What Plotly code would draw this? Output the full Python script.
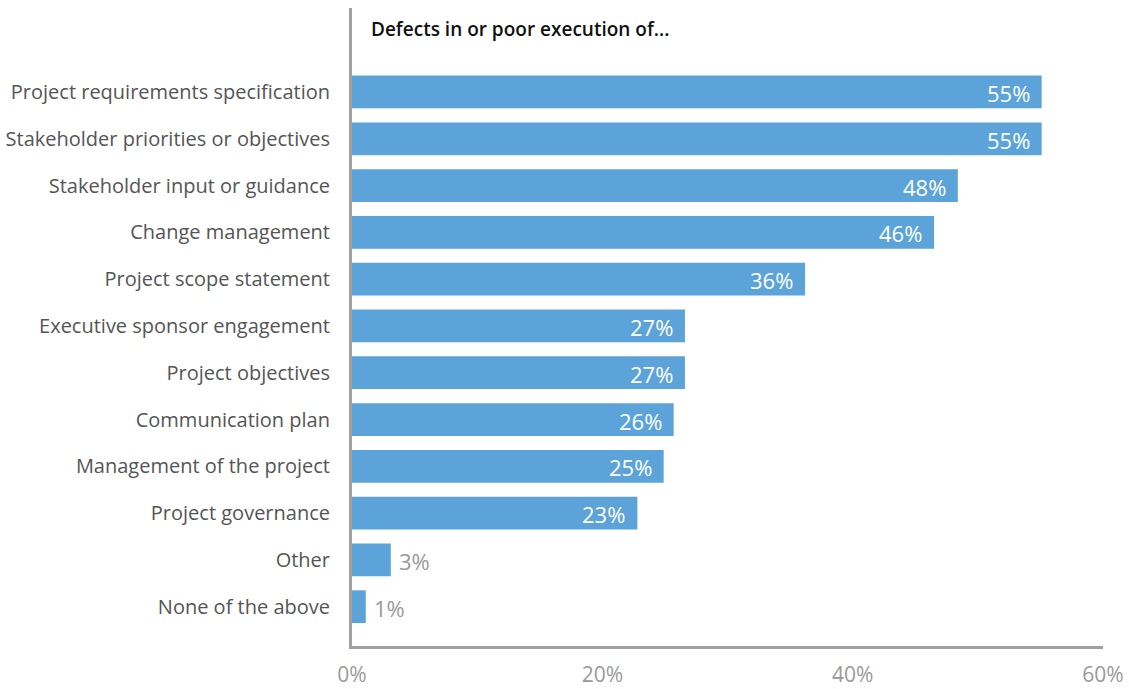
import plotly.graph_objects as go

categories = [
    "Project requirements specification",
    "Stakeholder priorities or objectives",
    "Stakeholder input or guidance",
    "Change management",
    "Project scope statement",
    "Executive sponsor engagement",
    "Project objectives",
    "Communication plan",
    "Management of the project",
    "Project governance",
    "Other",
    "None of the above",
]
values = [55.1, 55.1, 48.4, 46.5, 36.2, 26.6, 26.6, 25.7, 24.9, 22.8, 3.1, 1.1]
labels = ["55%", "55%", "48%", "46%", "36%", "27%", "27%", "26%", "25%", "23%", "3%", "1%"]
x_ticks = [0, 20, 40, 60]
x_tick_labels = ["0%", "20%", "40%", "60%"]
title_text = "Defects in or poor execution of..."

FONT = "Open Sans"

fig = go.Figure(go.Bar(
    x=values,
    y=list(range(len(categories))),
    orientation="h",
    width=0.70,
    marker=dict(color="#5BA3D9", line=dict(width=0)),
    hoverinfo="skip",
))

for i, (v, lab) in enumerate(zip(values, labels)):
    inside = v >= 10
    fig.add_annotation(
        x=v, y=i, xref="x", yref="y", text=lab, showarrow=False,
        xanchor="right" if inside else "left",
        xshift=-10 if inside else 6, yshift=-1,
        font=dict(size=22, family=FONT, color="white" if inside else "#9A9A9A"),
    )

fig.update_layout(
    width=1129, height=689,
    margin=dict(l=352, r=26, t=8, b=43),
    paper_bgcolor="white", plot_bgcolor="white",
    showlegend=False,
    font=dict(family=FONT),
)
fig.update_xaxes(
    range=[0, 60], tickvals=x_ticks, ticktext=x_tick_labels,
    showgrid=False, zeroline=False, automargin=False,
    showline=True, linecolor="#A0A0A0", linewidth=3,
    ticks="", ticklabelstandoff=8,
    tickfont=dict(size=21, color="#9A9A9A", family=FONT),
)
fig.update_yaxes(
    range=[11.84, -1.795],
    tickvals=list(range(len(categories))), ticktext=categories,
    showgrid=False, zeroline=False, automargin=False,
    showline=True, linecolor="#A0A0A0", linewidth=3,
    ticks="", ticklabelstandoff=15,
    tickfont=dict(size=20, color="#555555", family=FONT),
)
fig.add_annotation(
    text=title_text, xref="paper", yref="paper",
    x=0.022, y=1.0, xanchor="left", yanchor="top", yshift=-6,
    showarrow=False, font=dict(size=19, color="#111111", family=FONT, weight=600),
)

fig.write_html("out.html")
